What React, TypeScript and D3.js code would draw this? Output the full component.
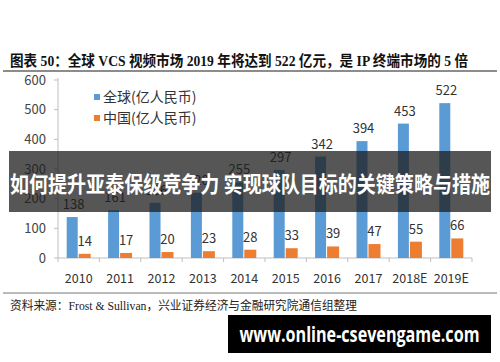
import React from "react";
import * as d3 from "d3";

const years = ["2010", "2011", "2012", "2013", "2014", "2015", "2016", "2017", "2018E", "2019E"];
const globalValues = [138, 161, 186, 220, 255, 297, 342, 394, 453, 522];
const chinaValues = [14, 17, 20, 23, 28, 33, 39, 47, 55, 66];
const yTicks = [0, 100, 200, 300, 400, 500, 600];
const legendLabels = ["全球(亿人民币)", "中国(亿人民币)"];

const W = 500;
const H = 362;
const BLUE = "#5b9bd5";
const ORANGE = "#ed7d31";
const CJK = "'Noto Sans CJK SC', sans-serif";
const SERIF_CJK = "'Liberation Serif', 'Noto Sans CJK SC', serif";

const App = () => {
  const x = d3.scaleBand().domain(years).range([58, 472]).padding(0);
  const y = d3.scaleLinear().domain([0, 600]).range([258, 80]);
  const barW = 12;
  const bw = x.bandwidth();

  return (
    <svg width={W} height={H} style={{ position: "absolute", left: 0, top: 0, background: "#fff" }}>
      {/* title */}
      <text x={10} y={66} fontSize={15} fontWeight="bold" fill="#111" fontFamily={SERIF_CJK}
        textLength={458} lengthAdjust="spacingAndGlyphs">
        图表 50：全球 VCS 视频市场 2019 年将达到 522 亿元，是 IP 终端市场的 5 倍
      </text>
      <line x1={3} x2={497} y1={71} y2={71} stroke="#666" strokeWidth={1.5} />

      {/* y axis */}
      <line x1={58} x2={58} y1={78} y2={258} stroke="#bfbfbf" />
      {yTicks.map((t) => (
        <g key={t}>
          <line x1={54} x2={58} y1={y(t)} y2={y(t)} stroke="#bfbfbf" />
          <text x={46} y={y(t) + 4.5} textAnchor="end" fontSize={13} fill="#444" fontFamily={CJK}>
            {t}
          </text>
        </g>
      ))}

      {/* x axis */}
      <line x1={58} x2={472} y1={258} y2={258} stroke="#bfbfbf" />
      {years.map((yr) => (
        <line key={"t" + yr} x1={(x(yr) as number) + bw} x2={(x(yr) as number) + bw} y1={258} y2={262} stroke="#bfbfbf" />
      ))}
      <line x1={58} x2={58} y1={258} y2={262} stroke="#bfbfbf" />
      {years.map((yr) => (
        <text key={"l" + yr} x={(x(yr) as number) + bw / 2} y={283} textAnchor="middle" fontSize={12.5} fill="#333" fontFamily={CJK}>
          {yr}
        </text>
      ))}

      {/* bars */}
      {years.map((yr, i) => {
        const c = (x(yr) as number) + bw / 2;
        return (
          <g key={"b" + yr}>
            <rect x={c - barW} y={y(globalValues[i])} width={barW - 1} height={258 - y(globalValues[i])} fill={BLUE} />
            <rect x={c} y={y(chinaValues[i])} width={barW} height={258 - y(chinaValues[i])} fill={ORANGE} />
            <text x={c - barW / 2 + 1} y={y(globalValues[i]) - 8} textAnchor="middle" fontSize={13} fill="#333" fontFamily={CJK}>
              {globalValues[i]}
            </text>
            <text x={c + barW / 2} y={y(chinaValues[i]) - 8} textAnchor="middle" fontSize={13} fill="#333" fontFamily={CJK}>
              {chinaValues[i]}
            </text>
          </g>
        );
      })}

      {/* legend */}
      {legendLabels.map((l, i) => (
        <g key={l} transform={`translate(94,${97 + i * 21})`}>
          <rect x={0} y={-3} width={6} height={6} fill={i === 0 ? BLUE : ORANGE} />
          <text x={9} y={5} fontSize={14} fill="#333" fontFamily={CJK}>{l}</text>
        </g>
      ))}

      {/* overlay banner */}
      <rect x={9} y={151} width={482} height={61} fill="rgba(30,30,30,0.75)" />
      <text x={10} y={192} fontSize={22} fontWeight="bold" fill="#fff" fontFamily={CJK}
        textLength={480} lengthAdjust="spacingAndGlyphs">
        如何提升亚泰保级竞争力 实现球队目标的关键策略与措施
      </text>

      {/* footer */}
      <line x1={3} x2={497} y1={293} y2={293} stroke="#777" strokeWidth={1} />
      <text x={10} y={310} fontSize={12} fill="#222" fontFamily={SERIF_CJK}
        textLength={347} lengthAdjust="spacingAndGlyphs">
        资料来源：Frost &amp; Sullivan，兴业证券经济与金融研究院通信组整理
      </text>

      <rect x={228} y={315} width={263} height={38} fill="#000" />
      <text x={359.5} y={342} textAnchor="middle" fontSize={21} fontWeight="bold" fill="#fff" fontFamily="'Open Sans', sans-serif"
        textLength={240} lengthAdjust="spacingAndGlyphs">
        www.online-csevengame.com
      </text>
    </svg>
  );
};

export default App;
